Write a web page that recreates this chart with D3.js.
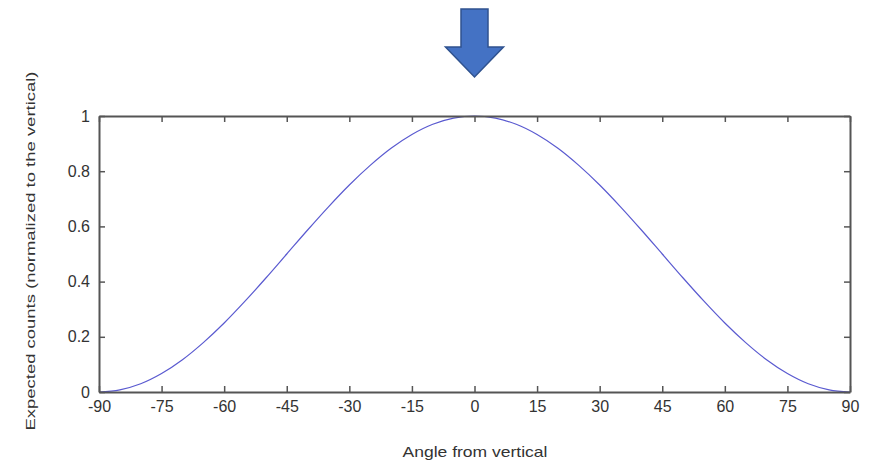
<!DOCTYPE html>
<html><head><meta charset="utf-8">
<script src="https://cdn.jsdelivr.net/npm/d3@7"></script>
<style>
html,body{margin:0;padding:0;background:#fff;}
svg{display:block;}
text{font-family:"Liberation Sans",Arial,Helvetica,sans-serif;}
</style></head>
<body>
<svg id="chart" width="871" height="463"></svg>
<script>
// Data
const angles = [-90,-85,-80,-75,-70,-65,-60,-55,-50,-45,-40,-35,-30,-25,-20,-15,-10,-5,0,5,10,15,20,25,30,35,40,45,50,55,60,65,70,75,80,85,90];
const counts = [0,0.008,0.030,0.067,0.117,0.179,0.25,0.329,0.413,0.5,0.587,0.671,0.75,0.821,0.883,0.933,0.97,0.992,1,0.992,0.97,0.933,0.883,0.821,0.75,0.671,0.587,0.5,0.413,0.329,0.25,0.179,0.117,0.067,0.030,0.008,0];
const xTicks = [-90,-75,-60,-45,-30,-15,0,15,30,45,60,75,90];
const yTicks = [0,0.2,0.4,0.6,0.8,1];
const xLabel = "Angle from vertical";
const yLabel = "Expected counts (normalized to the vertical)";

const svg = d3.select("#chart");
const L = 99, R = 850, T = 116, B = 392;
const x = d3.scaleLinear().domain([-90, 90]).range([L, R]);
const y = d3.scaleLinear().domain([0, 1]).range([B, T]);
const axisColor = "#555";

// Curve
const line = d3.line().x((d,i)=>x(angles[i])).y(d=>y(d)).curve(d3.curveCatmullRom);
svg.append("path").datum(counts).attr("d", line)
  .attr("fill","none").attr("stroke","#5a5ad0").attr("stroke-width",1.2);

// Axes
const gB = svg.append("g").attr("transform",`translate(0,${B})`)
  .call(d3.axisBottom(x).tickValues(xTicks).tickSize(-6).tickPadding(10).tickSizeOuter(0).tickFormat(d=>String(d)));
const gT = svg.append("g").attr("transform",`translate(0,${T})`)
  .call(d3.axisTop(x).tickValues(xTicks).tickSize(-6).tickSizeOuter(0).tickFormat(""));
const gL = svg.append("g").attr("transform",`translate(${L},0)`)
  .call(d3.axisLeft(y).tickValues(yTicks).tickSize(-6).tickPadding(9).tickSizeOuter(0).tickFormat(d=>String(d)));
const gR = svg.append("g").attr("transform",`translate(${R},0)`)
  .call(d3.axisRight(y).tickValues(yTicks).tickSize(-6).tickSizeOuter(0).tickFormat(""));
[gB,gT,gL,gR].forEach(g=>{
  g.selectAll(".domain").attr("stroke",axisColor).attr("stroke-width",2);
  g.selectAll(".tick line").attr("stroke",axisColor).attr("stroke-width",1.5);
  g.selectAll("text").attr("fill","#333").style("font-size","16px");
});
gB.selectAll(".tick text").attr("dy","0.6em");

// Axis labels
svg.append("text").attr("x",(L+R)/2+0.5).attr("y",457).attr("text-anchor","middle")
  .attr("fill","#333").style("font-size","15px")
  .attr("textLength",145).attr("lengthAdjust","spacingAndGlyphs").text(xLabel);
svg.append("text").attr("transform",`translate(35,251) rotate(-90)`).attr("text-anchor","middle")
  .attr("fill","#333").style("font-size","13px")
  .attr("textLength",359).attr("lengthAdjust","spacingAndGlyphs").text(yLabel);

// Down arrow above the peak
const ax = x(0);
const arrowPts = [[ax-13.5,9],[ax+13.5,9],[ax+13.5,47],[ax+29,47],[ax,77],[ax-29,47],[ax-13.5,47]];
svg.append("path").attr("d", d3.line()(arrowPts)+"Z")
  .attr("fill","#4472c4").attr("stroke","#2f528f").attr("stroke-width",1.5);
</script>
</body></html>
